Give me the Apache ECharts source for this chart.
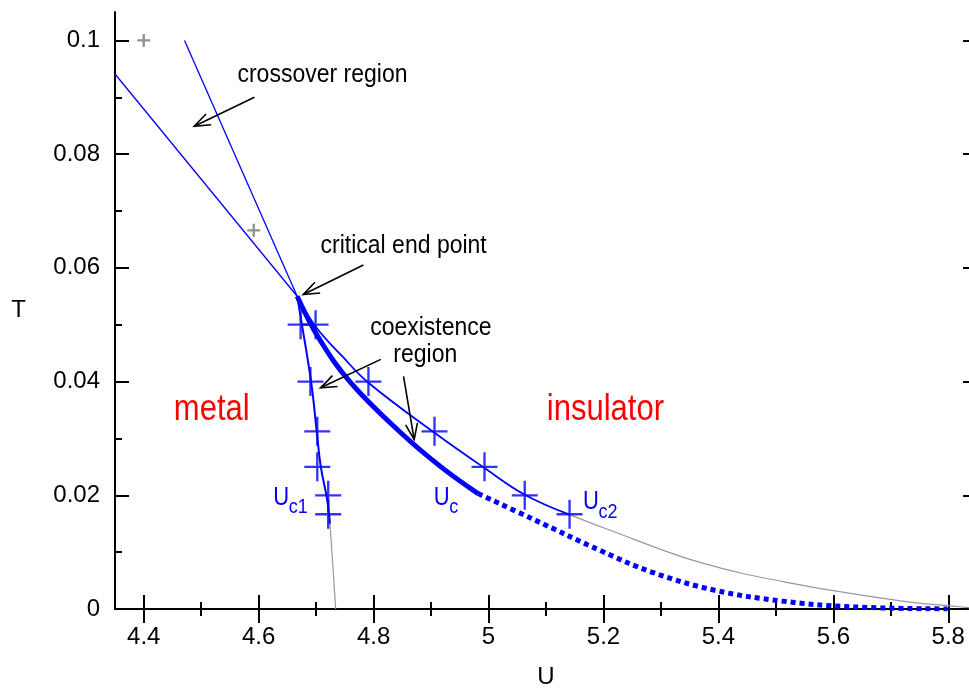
<!DOCTYPE html>
<html>
<head>
<meta charset="utf-8">
<script src="https://cdn.jsdelivr.net/npm/echarts@6/dist/echarts.min.js"></script>
<style>
html, body { margin: 0; padding: 0; background: #fff; }
#phase { width: 969px; height: 691px; }
</style>
</head>
<body>
<div id="phase"></div>
<script>
// axis ticks
var uTicks = [4.4, 4.6, 4.8, 5, 5.2, 5.4, 5.6, 5.8];
var uMinorTicks = [4.5, 4.7, 4.9, 5.1, 5.3, 5.5, 5.7];
var tTicks = [0, 0.02, 0.04, 0.06, 0.08, 0.1];
var tMinorTicks = [0.01, 0.03, 0.05, 0.07, 0.09];

// crossover lines, both end at the critical end point
var crossLineA = [[4.35, 0.0941], [4.667, 0.055]];
var crossLineB = [[4.471, 0.1], [4.667, 0.055]];

// Uc1 boundary (blue) and its extrapolation (grey)
var uc1Line = [[4.667, 0.055], [4.6758, 0.0497], [4.6915, 0.0398], [4.7013, 0.031], [4.708, 0.0251], [4.7182, 0.0198], [4.7229, 0.0164], [4.724, 0.015]];
var uc1Tail = [[4.724, 0.015], [4.7252, 0.0133], [4.7295, 0.007], [4.734, 0]];

// Uc2 boundary (blue) and its extrapolation (grey)
var uc2Line = [[4.667, 0.055], [4.699, 0.0497], [4.745, 0.0445], [4.791, 0.0398], [4.906, 0.031], [4.993, 0.0248], [5.063, 0.0201], [5.141, 0.0166]];
var uc2Tail = [[5.141, 0.0166], [5.2, 0.0143], [5.371, 0.0081], [5.545, 0.0042], [5.72, 0.0014], [5.82, 0.0004], [5.85, 0.0001]];

// first order line Uc: solid part and dotted extrapolation
var ucLine = [[4.667, 0.055], [4.7043, 0.0477], [4.7601, 0.0398], [4.8474, 0.031], [4.9172, 0.025], [4.9818, 0.0203]];
var ucDotted = [[4.9818, 0.0203], [5.0795, 0.0157], [5.1964, 0.0102], [5.2837, 0.0065], [5.3936, 0.0033], [5.5105, 0.0014], [5.6275, 0.0004], [5.7986, 0]];

// measured points
var tPoints = [0.05, 0.04, 0.03125, 0.025, 0.02, 0.01667];
var uc1Points = [4.673, 4.690, 4.702, 4.702, 4.721, 4.721];
var uc2Points = [4.699, 4.791, 4.906, 4.993, 5.063, 5.141];
var greyU = [4.4, 4.5914];
var greyT = [0.1, 0.0666];

// annotations
var noteText = ['crossover region', 'critical end point', 'coexistence', 'region'];
var noteU = [4.711, 4.8523, 4.8997, 4.890];
var noteT = [0.0939, 0.0638, 0.04945, 0.04475];
var phaseText = ['metal', 'insulator'];
var phaseU = [4.5184, 5.2034];
var phaseT = [0.0351, 0.0351];
var ucSub = ['c1', 'c', 'c2'];
var ucLabelU = [4.6252, 4.9045, 5.1645];
var ucLabelT = [0.0196, 0.0196, 0.0188];
// arrows: [U from, T from, U to, T to]
var arrows = [
  [4.5926, 0.0900, 4.4879, 0.0849],
  [4.7823, 0.0605, 4.6776, 0.0553],
  [4.8125, 0.0439, 4.7078, 0.0389],
  [4.8521, 0.0409, 4.8706, 0.0298]
];

var FONT = '"Liberation Sans", Arial, Helvetica, sans-serif';
var BLUE = '#0000ff';
var crossPath = 'path://M45.5,0h9v100h-9z M0,46h100v8h-100z';
var plusPath = 'path://M41,0h18v100h-18z M0,41h100v18h-100z';

function zip(a, b) {
  return a.map(function (v, i) { return [v, b[i]]; });
}

function xAx(pos, ticks, len, labels, line) {
  return {
    type: 'value', position: pos, min: 4.35, max: 5.85,
    name: labels ? 'U' : '', nameLocation: 'middle', nameGap: 56,
    nameTextStyle: { color: '#000', fontSize: 24, fontFamily: FONT },
    axisLine: { show: line, lineStyle: { color: '#000', width: 2 } },
    axisTick: { show: true, inside: true, length: len, customValues: ticks, lineStyle: { color: '#000', width: 2 } },
    axisLabel: { show: labels, customValues: ticks, margin: 16, color: '#000', fontSize: 24, fontFamily: FONT },
    splitLine: { show: false }
  };
}

function yAx(pos, ticks, len, labels, line) {
  return {
    type: 'value', position: pos, min: 0, max: 0.105,
    name: labels ? 'T' : '', nameLocation: 'middle', nameGap: 89, nameRotate: 0,
    nameTextStyle: { color: '#000', fontSize: 24, fontFamily: FONT },
    axisLine: { show: line, lineStyle: { color: '#000', width: 2 } },
    axisTick: { show: true, inside: true, length: len, customValues: ticks, lineStyle: { color: '#000', width: 2 } },
    axisLabel: { show: labels, customValues: ticks, margin: 15, color: '#000', fontSize: 24, fontFamily: FONT },
    splitLine: { show: false }
  };
}

function curve(data, color, width, dash) {
  return {
    type: 'line', data: data, showSymbol: false, smooth: 0.4,
    lineStyle: { color: color, width: width, type: dash || 'solid', cap: 'butt' },
    silent: true, z: 2
  };
}

function renderArrow(params, api) {
  var a = api.coord([api.value(0), api.value(1)]);
  var b = api.coord([api.value(2), api.value(3)]);
  var ang = Math.atan2(a[1] - b[1], a[0] - b[0]);
  var len = 17, spread = 0.36;
  var h1 = [b[0] + len * Math.cos(ang + spread), b[1] + len * Math.sin(ang + spread)];
  var h2 = [b[0] + len * Math.cos(ang - spread), b[1] + len * Math.sin(ang - spread)];
  var st = { stroke: '#000', lineWidth: 1.6, fill: 'none' };
  return {
    type: 'group',
    children: [
      { type: 'line', shape: { x1: a[0], y1: a[1], x2: b[0], y2: b[1] }, style: st },
      { type: 'polyline', shape: { points: [h1, b, h2] }, style: st }
    ]
  };
}

function renderNote(params, api) {
  var p = api.coord([api.value(0), api.value(1)]);
  return {
    type: 'text', x: p[0], y: p[1], scaleY: 1.1,
    style: { text: noteText[params.dataIndex], fill: '#000', font: '23px ' + FONT, align: 'center', verticalAlign: 'middle' }
  };
}

function renderPhase(params, api) {
  var p = api.coord([api.value(0), api.value(1)]);
  return {
    type: 'text', x: p[0], y: p[1], scaleY: 1.2,
    style: { text: phaseText[params.dataIndex], fill: '#ff0000', font: '31px ' + FONT, align: 'center', verticalAlign: 'middle' }
  };
}

function renderUc(params, api) {
  var p = api.coord([api.value(0), api.value(1)]);
  return {
    type: 'group',
    children: [
      { type: 'text', x: p[0], y: p[1], scaleY: 1.15,
        style: { text: 'U', fill: BLUE, font: '22px ' + FONT, align: 'left', verticalAlign: 'middle' } },
      { type: 'text', x: p[0] + 15.5, y: p[1] + 10, scaleY: 1.15,
        style: { text: ucSub[params.dataIndex], fill: BLUE, font: '18px ' + FONT, align: 'left', verticalAlign: 'middle' } }
    ]
  };
}

var chart = echarts.init(document.getElementById('phase'));
var option = {
  animation: false,
  backgroundColor: '#fff',
  grid: { left: 115, top: 12, width: 862, height: 597, outerBoundsMode: 'none', containLabel: false },
  xAxis: [
    xAx('bottom', uTicks, 14, true, true),
    xAx('bottom', uMinorTicks, 7, false, false),
    xAx('top', uTicks, 14, false, true),
    xAx('top', uMinorTicks, 7, false, false)
  ],
  yAxis: [
    yAx('left', tTicks, 14, true, true),
    yAx('left', tMinorTicks, 7, false, false),
    yAx('right', tTicks, 14, false, true),
    yAx('right', tMinorTicks, 7, false, false)
  ],
  series: [
    curve(crossLineA, BLUE, 1.3),
    curve(crossLineB, BLUE, 1.3),
    curve(uc1Tail, '#999', 1.2),
    curve(uc2Tail, '#999', 1.2),
    curve(uc1Line, BLUE, 2),
    curve(uc2Line, BLUE, 1.8),
    curve(ucLine, BLUE, 5),
    curve(ucDotted, BLUE, 5, [5, 4]),
    {
      type: 'scatter', data: zip(greyU, greyT), symbol: plusPath, symbolSize: 13,
      itemStyle: { color: '#777' }, silent: true, z: 3
    },
    {
      type: 'scatter', data: zip(uc1Points, tPoints), symbol: crossPath, symbolSize: [26, 29],
      itemStyle: { color: BLUE }, silent: true, z: 3
    },
    {
      type: 'scatter', data: zip(uc2Points, tPoints), symbol: crossPath, symbolSize: [26, 29],
      itemStyle: { color: BLUE }, silent: true, z: 3
    },
    {
      type: 'custom', renderItem: renderArrow, data: arrows, silent: true, z: 4,
      encode: { x: [0, 2], y: [1, 3] }
    },
    { type: 'custom', renderItem: renderNote, data: zip(noteU, noteT), silent: true, z: 5 },
    { type: 'custom', renderItem: renderPhase, data: zip(phaseU, phaseT), silent: true, z: 5 },
    { type: 'custom', renderItem: renderUc, data: zip(ucLabelU, ucLabelT), silent: true, z: 5 }
  ]
};
chart.setOption(option);
</script>
</body>
</html>
